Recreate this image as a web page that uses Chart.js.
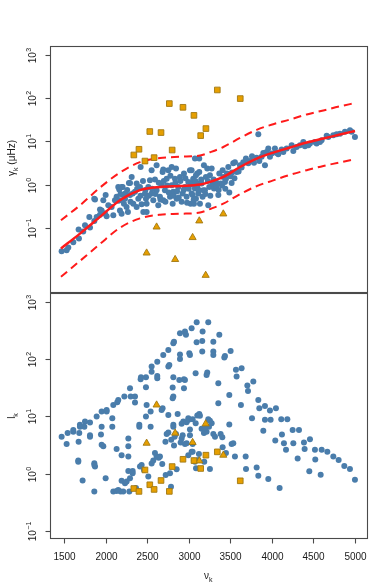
<!DOCTYPE html>
<html><head><meta charset="utf-8">
<script src="https://cdn.jsdelivr.net/npm/chart.js@4"></script>
<style>
html,body{margin:0;padding:0;background:#fff;}
#wrap{position:relative;width:390px;height:586px;overflow:hidden;}
canvas{position:absolute;left:0;top:0;}
</style></head><body>
<div id="wrap"><canvas id="cTop" width="390" height="586"></canvas><canvas id="cBot" width="390" height="586"></canvas></div>
<script>
// ---------- DATA ----------
const xTicks = [1500, 2000, 2500, 3000, 3500, 4000, 4500, 5000];
const xTickLabels = ['1500', '2000', '2500', '3000', '3500', '4000', '4500', '5000'];
const yTicks = [0.1, 1, 10, 100, 1000];
const yTickExp = ['\u22121', '0', '1', '2', '3'];

// fitted linewidth relation (top panel)
const fitX     = [1464, 1692, 1933, 2174, 2414, 2655, 2895, 3136, 3256, 3416, 3617, 3818, 4017, 4218, 4419, 4619, 4819, 5000];
const fitY     = [0.033, 0.073, 0.178, 0.433, 0.74, 0.88, 0.93, 1.0, 1.15, 1.5, 2.55, 4.0, 5.5, 7.2, 9.4, 11.6, 14.4, 17.4];
const fitUpper = [0.149, 0.33, 0.85, 1.9, 3.3, 4.1, 4.4, 4.7, 5.6, 7.4, 12, 18.5, 25, 32, 42, 52, 65, 77];
const fitLower = [0.0073, 0.017, 0.042, 0.100, 0.165, 0.20, 0.21, 0.225, 0.27, 0.36, 0.60, 0.92, 1.25, 1.68, 2.15, 2.7, 3.25, 3.9];

// outlier modes (shared frequencies)
const squareX    = [2340, 2402, 2474, 2532, 2584, 2667, 2767, 2801, 2931, 3063, 3144, 3207, 3344, 3620];
const squareTopY = [4.84, 6.56, 3.5, 16.9, 4.2, 16.0, 75, 6.3, 61.5, 40, 13.6, 19.8, 155, 98];
const squareBotY = [0.55, 0.49, 1.16, 0.64, 0.53, 0.76, 0.49, 1.33, 1.78, 1.69, 1.23, 2.1, 2.4, 0.75];
const triX    = [2494, 2614, 2837, 3047, 3127, 3204, 3416];
const triTopY = [0.026, 0.104, 0.0184, 0.0593, 0.144, 0.0079, 0.209];
const triBotY = [3.4, 15.8, 5.1, 3.5, 1.67, 7.4, 2.1];

// top panel: linewidths
const gammaX = [1472,1532,1552,1612,1680,1676,1732,1753,1805,1813,1865,1893,1873,1933,1953,2001,2013,2033,2073,2093,
2133,2153,2173,2193,2205,2221,2237,2253,2269,2281,2294,2326,2334,2354,2374,2394,2414,2434,2454,2474,
2486,2494,2514,2534,2554,2574,2594,2614,2614,2634,2654,2674,2686,2694,2714,2735,2755,2775,2795,2807,
2815,2835,2847,2855,2875,2895,2915,2927,2943,2955,2975,2995,3015,3023,3035,3055,3075,3087,3103,3115,
3127,2422,2554,2694,2795,2494,2314,2165,2374,3035,3055,3075,3087,3103,3115,3127,3135,3155,3167,3183,
3195,3207,3223,3235,3247,3255,3276,3288,3304,3328,3356,3368,3384,3408,3416,3436,3448,3476,3488,3504,
3516,3536,3556,3576,3616,3636,3656,3688,3717,3737,3761,3785,3817,3837,3849,3877,3897,3917,3937,3957,
3977,3997,4037,4057,4077,4117,4138,4178,4238,4258,4298,4338,4378,4398,4438,4458,4518,4538,4578,4598,
4659,4679,4739,4779,4819,4879,4939,4959,4999,3095,3175,3047,3063,2153,2194,2294,2113,2174,2234,1864,
1973,1933,1993,2520,2560,2600,2640,2660,2700,2720,2740,2760,2780,2820,2840,2860,2880,2900,2940,2960,
2980,3000,3040,3060,3080,3120,3150,3200,3230,3260,3300,3330,3360,3400,3440,3460,3520,3550,3600,2380,
2420,2450,2480,2300,2260,2220,2180];
const gammaY = [0.0286,0.030,0.035,0.046,0.056,0.091,0.082,0.114,0.178,0.101,0.144,0.178,0.45,0.20,0.25,0.57,0.185,0.33,0.30,0.195,
0.52,0.42,0.25,0.21,0.88,0.36,0.62,0.30,0.23,1.09,0.57,0.62,0.36,0.68,1.05,0.47,0.88,0.35,0.23,0.62,
0.47,0.36,0.88,1.26,0.62,0.43,1.30,2.8,0.74,0.33,0.52,0.96,1.96,0.43,0.74,1.37,2.14,0.52,0.96,0.36,
0.68,1.37,2.34,0.47,0.88,1.50,0.40,0.62,1.80,0.88,0.52,1.15,2.14,0.36,0.62,1.37,0.81,0.47,1.80,1.05,
4.0,2.56,2.14,2.22,2.56,0.23,1.50,0.77,0.30,2.14,1.26,4.0,1.64,0.88,0.62,1.96,0.36,1.05,0.52,2.8,
0.74,1.50,2.34,0.33,0.88,1.64,2.34,1.05,0.81,1.15,0.57,1.80,1.05,2.14,1.50,1.15,1.37,2.56,0.65,1.56,
1.09,3.1,3.3,1.96,2.8,2.47,3.3,4.0,3.1,3.5,4.5,3.2,4.2,14.6,3.5,4.4,5.4,2.8,5.7,6.8,
4.4,5.2,6.8,5.4,5.0,6.5,5.7,6.8,8.1,6.0,7.4,8.1,9.7,7.7,8.1,8.9,9.7,8.9,9.7,10.6,
13.4,12.7,13.9,14.6,15.1,16.6,18.1,16.6,12.7,1.02,0.74,0.57,0.36,0.88,0.88,1.09,0.43,0.43,0.47,0.47,
0.43,0.264,0.213,0.55,0.80,0.60,1.1,0.45,1.2,0.40,0.95,0.65,1.6,0.55,1.1,0.70,0.50,1.2,0.75,1.4,
0.38,0.80,1.0,0.45,1.2,0.75,1.3,0.60,1.2,0.55,1.3,0.90,0.75,0.95,0.80,1.8,1.9,1.4,2.0,0.80,
0.55,1.2,0.75,0.40,0.75,0.55,0.60];

// bottom panel: heights
const heightX = [1472,1544,1532,1612,1612,1684,1676,1753,1745,1813,1813,1813,1893,1953,2013,2013,2093,2141,2153,2226,
2294,2302,2354,2354,2422,2426,2486,2486,2554,2554,2622,2622,2622,2694,2755,2815,2823,2895,2955,2967,
3035,3096,2755,2767,2815,2807,2815,2807,2887,2943,2943,3007,3015,2895,2895,2955,
1692,1692,1953,1945,1973,1953,2081,2081,2133,2274,2274,2274,2274,2406,2406,2486,2494,2542,2542,2686,
2674,2755,2735,2755,2815,2815,2867,2915,2935,2975,2999,2995,3015,3015,3047,3103,3124,3084,
1672,1672,1724,1865,1873,1865,2001,2193,1865,2093,2133,2153,2181,2213,2193,2234,2254,2294,2326,2326,
2286,2366,2414,2434,2462,2514,2554,2574,2594,2614,2639,2654,2682,2723,2775,2787,2823,2831,2847,2855,
2903,2915,2927,2955,2975,2995,3035,3088,3116,3047,2720,2790,
3235,3167,3095,3163,3296,3368,3163,3296,3296,3436,3428,3504,3083,3223,3215,3356,3568,3576,3636,3705,
3713,3777,3356,3488,3628,3837,3849,3917,3977,4049,3761,3917,3985,4113,4186,3897,4041,4121,4250,4326,
3488,3127,3135,3235,3255,3276,3244,3155,3183,3215,3195,3296,3316,3384,3404,3408,3516,3536,3448,3556,
3685,3063,3075,3123,3047,3187,3255,3689,3817,3837,3957,4093,4145,4170,4258,4310,4386,4394,4458,4450,
4518,4522,4587,4599,4667,4739,4803,4871,4939,4999];
const heightY = [4.4,5.1,3.3,5.4,5.8,5.1,3.6,8.1,6.6,7.8,4.7,4.4,9.9,12.1,12.9,12.1,15.8,17.6,19.3,22.1,
30.9,22.1,22.1,17.4,44.4,48,48.1,32.2,74,60,50.7,46.2,90,118,144,188,201,282,301,264,
344,438,74,79,48.1,31.7,22.1,20.7,43.2,44.4,30.9,126,118,100,120,43.2,
7.1,6.6,6.6,4.8,3.0,3.2,9.3,6.6,2.7,4.1,3.0,2.0,1.11,7.1,6.6,9.9,15.8,12.1,6.6,13.8,
12.9,10.6,4.9,5.2,7.1,6.6,11.0,7.4,8.1,7.9,8.7,9.3,5.9,4.7,8.9,10.3,10.6,7.6,
1.69,1.62,0.76,1.52,1.33,1.42,0.83,2.1,0.49,0.49,0.50,0.52,0.49,0.49,0.75,0.68,0.73,0.83,1.11,1.02,
0.49,0.56,1.33,1.42,1.16,0.89,1.50,1.69,2.3,2.0,1.9,2.0,1.48,0.95,1.02,0.59,3.1,4.4,4.9,1.19,
3.5,4.1,4.7,3.3,3.4,2.1,2.4,1.24,1.73,3.3,3.6,3.9,
438,301,196,207,201,264,135,135,118,113,106,138,56.5,58,52.8,37.8,65,49.4,69,34.4,
27.8,40.4,16.9,23.6,15.8,19.3,13.8,15.2,12.6,13.8,9.3,8.7,8.7,8.9,8.9,5.6,3.8,4.8,5.8,5.8,
7.2,11.0,10.2,8.9,8.4,7.6,6.6,6.1,5.1,5.4,6.2,4.9,4.4,4.9,4.3,2.9,3.3,3.4,2.3,2.0,
2.0,1.69,1.62,2.2,2.4,1.62,1.21,1.21,1.28,0.92,0.81,0.56,3.4,2.6,3.4,1.83,3.5,2.7,4.0,1.10,
2.6,1.76,0.96,2.6,2.4,2.0,1.73,1.36,1.21,0.78];

// ---------- HELPERS ----------
const pts = (xs, ys) => xs.map((x, i) => ({x: x, y: ys[i]}));
const FONT = '"Liberation Sans", Arial, Helvetica, sans-serif';
const BLUE = '#4a7dab';
const ORANGE = '#e69f00';
const OEDGE = '#a07812';
const RED = '#ff1a1a';

const panelPlugin = {
  id: 'panel',
  afterDatasetsDraw(chart, args, o) {
    const ctx = chart.ctx, a = chart.chartArea, ys = chart.scales.y, xs = chart.scales.x;
    ctx.save();
    ctx.strokeStyle = '#4a4a4a';
    ctx.lineWidth = 1.1;
    const L = Math.round(a.left) + 0.5, T = Math.round(a.top) + 0.5;
    const R = Math.round(a.right) + 0.5, B = Math.round(a.bottom) - 0.5;
    ctx.strokeRect(L, T, R - L, B - T);
    yTicks.forEach((v, i) => {
      const py = Math.round(ys.getPixelForValue(v)) + 0.5;
      ctx.beginPath(); ctx.moveTo(L - 5, py); ctx.lineTo(L, py); ctx.stroke();
      ctx.save();
      ctx.translate(L - 15, py);
      ctx.rotate(-Math.PI / 2);
      ctx.fillStyle = '#1a1a1a';
      ctx.textAlign = 'left'; ctx.textBaseline = 'alphabetic';
      ctx.font = '10px ' + FONT;
      const w1 = ctx.measureText('10').width;
      ctx.font = '7px ' + FONT;
      const w2 = ctx.measureText(yTickExp[i]).width;
      const x0 = -(w1 + w2 + 0.5) / 2;
      ctx.font = '10px ' + FONT;
      ctx.fillText('10', x0, 0);
      ctx.font = '7px ' + FONT;
      ctx.fillText(yTickExp[i], x0 + w1 + 0.5, -5);
      ctx.restore();
    });
    ctx.save();
    ctx.translate(15, o.titleY);
    ctx.rotate(-Math.PI / 2);
    ctx.fillStyle = '#1a1a1a';
    drawSubText(ctx, o.titleMain, 'k', o.titleRest, 0, 0);
    ctx.restore();
    if (o.xAxis) {
      ctx.fillStyle = '#1a1a1a';
      xTicks.forEach((v, i) => {
        const px = Math.round(xs.getPixelForValue(v)) + 0.5;
        ctx.beginPath(); ctx.moveTo(px, B); ctx.lineTo(px, B + 5); ctx.stroke();
        ctx.font = '10px ' + FONT;
        ctx.textAlign = 'center'; ctx.textBaseline = 'middle';
        ctx.fillText(xTickLabels[i], px, 557);
      });
      drawSubText(ctx, '\u03bd', 'k', '', (a.left + a.right) / 2, 579);
    }
    ctx.restore();
  }
};

function drawSubText(ctx, main, sub, rest, cx, by) {
  ctx.textAlign = 'left'; ctx.textBaseline = 'alphabetic';
  ctx.font = '10px ' + FONT; const w1 = ctx.measureText(main).width;
  ctx.font = '7px ' + FONT; const w2 = ctx.measureText(sub).width;
  ctx.font = '10px ' + FONT; const w3 = rest ? ctx.measureText(rest).width : 0;
  let x = cx - (w1 + w2 + w3) / 2;
  ctx.font = '10px ' + FONT; ctx.fillText(main, x, by); x += w1;
  ctx.font = '7px ' + FONT; ctx.fillText(sub, x, by + 3); x += w2;
  if (rest) { ctx.font = '10px ' + FONT; ctx.fillText(rest, x, by); }
}

function makeChart(id, datasets, yMin, yMax, padTop, padBottom, panelOpts) {
  return new Chart(document.getElementById(id), {
    type: 'scatter',
    data: {datasets: datasets},
    options: {
      responsive: false, animation: false, devicePixelRatio: 1, events: [],
      layout: {padding: {left: 50, right: 23.5, top: padTop, bottom: padBottom}},
      scales: {
        x: {type: 'linear', min: 1332, max: 5138, display: false},
        y: {type: 'logarithmic', min: yMin, max: yMax, display: false}
      },
      plugins: {legend: {display: false}, tooltip: {enabled: false}, panel: panelOpts}
    },
    plugins: [panelPlugin]
  });
}

const blueSet = (d) => ({data: d, pointStyle: 'circle', pointRadius: 3, backgroundColor: BLUE, borderColor: BLUE, borderWidth: 0, order: 3});
const sqSet = (d) => ({data: d, pointStyle: 'rect', pointRadius: 4, backgroundColor: ORANGE, borderColor: OEDGE, borderWidth: 0.9, order: 0});
const triSet = (d) => ({data: d, pointStyle: 'triangle', pointRadius: 4.1, backgroundColor: ORANGE, borderColor: OEDGE, borderWidth: 0.9, order: 0});
const lineSet = (d, dash, w) => ({type: 'line', data: d, borderColor: RED, borderWidth: w, borderDash: dash, pointRadius: 0, fill: false, cubicInterpolationMode: 'monotone', order: 1});

makeChart('cTop', [
  blueSet(pts(gammaX, gammaY)),
  lineSet(pts(fitX, fitY), [], 2.5),
  lineSet(pts(fitX, fitUpper), [8, 5], 2),
  lineSet(pts(fitX, fitLower), [8, 5], 2),
  sqSet(pts(squareX, squareTopY)),
  triSet(pts(triX, triTopY))
], 0.00316, 1660, 45.5, 586 - 292.5, {titleY: 158, titleMain: '\u03b3', titleRest: ' (\u03bcHz)', xAxis: false});

makeChart('cBot', [
  blueSet(pts(heightX, heightY)),
  sqSet(pts(squareX, squareBotY)),
  triSet(pts(triX, triBotY))
], 0.0724, 1419, 293, 47, {titleY: 416, titleMain: 'l', titleRest: '', xAxis: true});
</script>
</body></html>
